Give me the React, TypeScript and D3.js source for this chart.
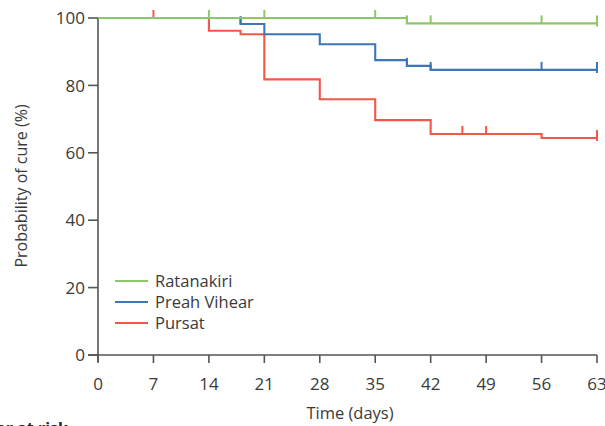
import React from "react";
import * as d3 from "d3";

const dayTicks = [0, 7, 14, 21, 28, 35, 42, 49, 56, 63];
const probTicks = [0, 20, 40, 60, 80, 100];

const seriesNames = ["Ratanakiri", "Preah Vihear", "Pursat"];
const seriesColors = ["#8cc866", "#3b76b9", "#f2574a"];

const ratanakiriTimes = [0, 39];
const ratanakiriSurv = [100, 98.4];
const ratanakiriCensor = [14, 21, 35, 39, 42, 56, 63];

const preahTimes = [0, 18, 21, 28, 35, 39, 42];
const preahSurv = [100, 98.2, 95.2, 92.2, 87.5, 85.8, 84.6];
const preahCensor = [18, 39, 42, 56, 63];

const pursatTimes = [0, 14, 18, 21, 28, 35, 42, 56];
const pursatSurv = [100, 96.2, 95.2, 81.8, 75.9, 69.7, 65.6, 64.4];
const pursatCensor = [7, 46, 49, 63];

const W = 605;
const H = 426;
const x = d3.scaleLinear().domain([0, 63]).range([98, 597]);
const y = d3.scaleLinear().domain([0, 100]).range([355, 18]);

const FONT = "'Open Sans', 'Noto Sans', sans-serif";
const AXIS = "#555";
const TEXT = "#3a3a3a";

function survAt(times: number[], surv: number[], t: number) {
  let v = surv[0];
  for (let i = 0; i < times.length; i++) if (times[i] <= t) v = surv[i];
  return v;
}

export default function App() {
  const series = [
    { t: pursatTimes, s: pursatSurv, c: pursatCensor, color: seriesColors[2] },
    { t: preahTimes, s: preahSurv, c: preahCensor, color: seriesColors[1] },
    { t: ratanakiriTimes, s: ratanakiriSurv, c: ratanakiriCensor, color: seriesColors[0] },
  ];
  const line = d3
    .line<[number, number]>()
    .x((d) => x(d[0]))
    .y((d) => y(d[1]))
    .curve(d3.curveStepAfter);

  return (
    <svg
      width={W}
      height={H}
      style={{ position: "absolute", left: 0, top: 0, background: "#fff" }}
      fontFamily={FONT}
    >
      {/* y axis */}
      <line x1={x(0)} x2={x(0)} y1={y(100)} y2={y(0) + 7} stroke={AXIS} strokeWidth={1.6} />
      {probTicks.map((v) => (
        <g key={"y" + v}>
          <line x1={x(0) - 10} x2={x(0)} y1={y(v)} y2={y(v)} stroke={AXIS} strokeWidth={1.6} />
          <text x={x(0) - 13} y={y(v)} dy="0.36em" textAnchor="end" fontSize={17} fill={TEXT}>
            {v}
          </text>
        </g>
      ))}
      {/* x axis */}
      <line x1={x(0) - 10} x2={x(63)} y1={y(0)} y2={y(0)} stroke={AXIS} strokeWidth={1.6} />
      {dayTicks.map((v) => (
        <g key={"x" + v}>
          <line x1={x(v)} x2={x(v)} y1={y(0)} y2={y(0) + 8} stroke={AXIS} strokeWidth={1.6} />
          <text x={x(v)} y={y(0) + 35} textAnchor="middle" fontSize={17} fill={TEXT}>
            {v}
          </text>
        </g>
      ))}
      <text x={350} y={419} textAnchor="middle" fontSize={16.5} fill={TEXT}>
        Time (days)
      </text>
      <text
        transform={`translate(27,${186}) rotate(-90)`}
        textAnchor="middle"
        fontSize={16}
        fill={TEXT}
      >
        Probability of cure (%)
      </text>
      <text x={68} y={434} textAnchor="end" fontSize={16} fontWeight="bold" fill="#222">
        Number at risk
      </text>

      {/* curves */}
      {series.map((sr, i) => {
        const pts: [number, number][] = sr.t.map((t, j) => [t, sr.s[j]]);
        pts.push([63, sr.s[sr.s.length - 1]]);
        return (
          <g key={"s" + i}>
            <path d={line(pts) || ""} fill="none" stroke={sr.color} strokeWidth={2.1} />
            {sr.c.map((ct) => {
              const yy = y(survAt(sr.t, sr.s, ct));
              const end = ct === 63;
              return (
                <line
                  key={"c" + ct}
                  x1={x(ct)}
                  x2={x(ct)}
                  y1={yy - 8}
                  y2={end ? yy + 3 : yy}
                  stroke={sr.color}
                  strokeWidth={2}
                />
              );
            })}
          </g>
        );
      })}

      {/* legend */}
      {seriesNames.map((n, i) => (
        <g key={"l" + n} transform={`translate(115,${281 + i * 21})`}>
          <line x1={0} x2={33} y1={0} y2={0} stroke={seriesColors[i]} strokeWidth={2} />
          <text x={40} y={0} dy="0.36em" fontSize={16.5} fill={TEXT}>
            {n}
          </text>
        </g>
      ))}
    </svg>
  );
}
